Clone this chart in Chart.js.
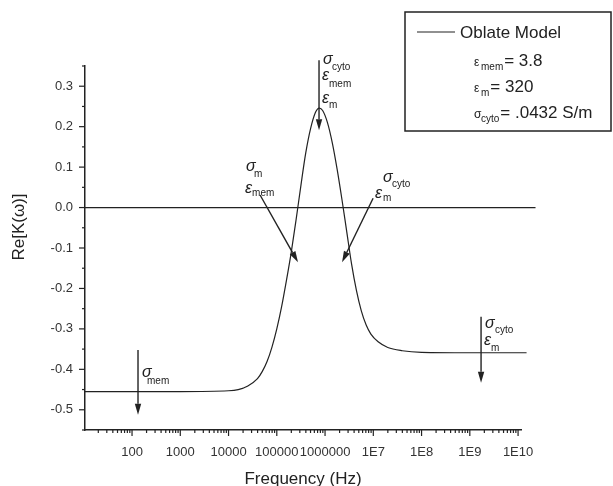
<!DOCTYPE html>
<html>
<head>
<meta charset="utf-8">
<script src="https://cdn.jsdelivr.net/npm/chart.js@4"></script>
<style>
  body { margin: 0; background: #fff; }
</style>
</head>
<body>
<canvas id="c" width="613" height="486"></canvas>
<script>

// frequency (Hz) and Re[K(w)]
const freq = [10.6, 1000, 10000, 15850, 25120, 39810, 50120, 63100, 79430, 100000, 125900, 158500,
  199500, 251200, 316200, 398100, 501200, 631000, 758600, 891300, 1122000, 1413000, 1778000,
  2239000, 2818000, 3548000, 4467000, 5623000, 7079000, 8913000, 12590000, 19950000, 39810000,
  1e8, 1e9, 1.5e10];
const reK = [-0.455, -0.455, -0.453, -0.450, -0.441, -0.423, -0.405, -0.380, -0.345, -0.300, -0.245, -0.180,
  -0.110, -0.030, 0.055, 0.135, 0.195, 0.235, 0.246, 0.240, 0.210, 0.160, 0.095,
  0.020, -0.060, -0.140, -0.205, -0.255, -0.290, -0.313, -0.332, -0.346, -0.354,
  -0.358, -0.359, -0.359];

// the horizontal zero reference line
const zeroFreq = [10.6, 2.3e10];
const zeroVal = [0, 0];

const xTickValues = [100, 1000, 10000, 100000, 1000000, 1e7, 1e8, 1e9, 1e10];
const xTickLabels = ['100', '1000', '10000', '100000', '1000000', '1E7', '1E8', '1E9', '1E10'];
const yTickValues = [-0.5, -0.4, -0.3, -0.2, -0.1, 0.0, 0.1, 0.2, 0.3];

const seriesName = 'Oblate Model';
const legendLines = [
  ['ε', 'mem', '= 3.8'],
  ['ε', 'm', '= 320'],
  ['σ', 'cyto', '= .0432 S/m']
];

// arrows in data space (freq, value); labels: [text, dx, dy, kind] from arrow tail
const arrows = [
  { from: [133, -0.352], to: [133, -0.512],
    text: [['σ', 4, 27, 'g'], ['mem', 9, 34, 's']] },
  { from: [7.5e5, 0.364], to: [7.5e5, 0.191],
    text: [['σ', 4, 4, 'g'], ['cyto', 13, 10, 's'], ['ε', 3, 20, 'g'], ['mem', 10, 27, 's'], ['ε', 3, 43, 'g'], ['m', 10, 48, 's']] },
  { from: [4.5e4, 0.031], to: [2.75e5, -0.135],
    text: [['σ', -14, -24, 'g'], ['m', -6, -18, 's'], ['ε', -15, -2, 'g'], ['mem', -8, 1, 's']] },
  { from: [9.9e6, 0.023], to: [2.25e6, -0.135],
    text: [['σ', 10, -16, 'g'], ['cyto', 19, -11, 's'], ['ε', 2, 0, 'g'], ['m', 10, 3, 's']] },
  { from: [1.71e9, -0.27], to: [1.71e9, -0.433],
    text: [['σ', 4, 11, 'g'], ['cyto', 14, 16, 's'], ['ε', 3, 28, 'g'], ['m', 10, 34, 's']] }
];

const ink = '#222';
const fam = "'Liberation Sans', Arial, sans-serif";

function seg(ctx, x1, y1, x2, y2) {
  ctx.beginPath();
  ctx.moveTo(x1, y1);
  ctx.lineTo(x2, y2);
  ctx.stroke();
}

const decor = {
  id: 'decor',
  afterDraw(chart) {
    const { ctx, chartArea: a, scales: { x, y } } = chart;
    ctx.save();
    ctx.strokeStyle = ink;
    ctx.fillStyle = ink;
    ctx.lineWidth = 1.2;

    // y ticks, major every 0.1 and minor every 0.05
    for (let k = -11; k <= 7; k++) {
      const py = y.getPixelForValue(k * 0.05);
      const len = (k % 2 === 0) ? 6 : 3;
      seg(ctx, a.left - len, py, a.left, py);
    }
    // x ticks, decades and 2..9
    for (let d = 1; d <= 10; d++) {
      for (let m = 1; m < 10; m++) {
        const f = m * Math.pow(10, d);
        if (f < x.min || f > x.max) continue;
        const px = x.getPixelForValue(f);
        seg(ctx, px, a.bottom, px, a.bottom + (m === 1 ? 6 : 3));
      }
    }

    // arrows
    arrows.forEach(ar => {
      const x1 = x.getPixelForValue(ar.from[0]), y1 = y.getPixelForValue(ar.from[1]);
      const x2 = x.getPixelForValue(ar.to[0]), y2 = y.getPixelForValue(ar.to[1]);
      const ang = Math.atan2(y2 - y1, x2 - x1);
      const hl = 11, hw = 3.2;
      const bx = x2 - hl * Math.cos(ang), by = y2 - hl * Math.sin(ang);
      ctx.lineWidth = 1.4;
      seg(ctx, x1, y1, bx, by);
      ctx.beginPath();
      ctx.moveTo(x2, y2);
      ctx.lineTo(bx + hw * Math.sin(ang), by - hw * Math.cos(ang));
      ctx.lineTo(bx - hw * Math.sin(ang), by + hw * Math.cos(ang));
      ctx.closePath();
      ctx.fill();
      ctx.textAlign = 'left';
      ctx.textBaseline = 'alphabetic';
      ar.text.forEach(t => {
        ctx.font = t[3] === 'g' ? 'italic 16px ' + fam : '10px ' + fam;
        ctx.fillText(t[0], x1 + t[1], y1 + t[2]);
      });
    });

    // legend box
    const ds = chart.data.datasets[0];
    ctx.lineWidth = 1.5;
    ctx.strokeRect(405, 12, 206, 119);
    ctx.lineWidth = ds.borderWidth;
    ctx.strokeStyle = ds.borderColor;
    seg(ctx, 417, 32, 455, 32);
    ctx.font = '17px ' + fam;
    ctx.fillText(ds.label, 460, 38);
    const rows = [66, 92, 118];
    legendLines.forEach((ln, i) => {
      const by = rows[i];
      ctx.font = '12px ' + fam;
      ctx.fillText(ln[0], 474, by);
      ctx.font = '10px ' + fam;
      ctx.fillText(ln[1], 481, by + 4);
      const w = ctx.measureText(ln[1]).width;
      ctx.font = '17px ' + fam;
      ctx.fillText(ln[2], 481 + w + 1, by);
    });

    // axis titles
    ctx.font = '17px ' + fam;
    ctx.textAlign = 'center';
    ctx.textBaseline = 'middle';
    ctx.fillText('Frequency (Hz)', (a.left + a.right) / 2, 479);
    ctx.save();
    ctx.translate(19, 227);
    ctx.rotate(-Math.PI / 2);
    ctx.fillText('Re[K(ω)]', 0, 0);
    ctx.restore();

    ctx.restore();
  }
};

new Chart(document.getElementById('c'), {
  type: 'line',
  data: {
    datasets: [{
      label: seriesName,
      data: freq.map((f, i) => ({ x: f, y: reK[i] })),
      borderColor: ink,
      borderWidth: 1.2,
      pointRadius: 0,
      cubicInterpolationMode: 'monotone',
      clip: false
    }, {
      label: 'zero',
      data: zeroFreq.map((f, i) => ({ x: f, y: zeroVal[i] })),
      borderColor: ink,
      borderWidth: 1.2,
      pointRadius: 0,
      clip: false
    }]
  },
  options: {
    responsive: false,
    animation: false,
    layout: { padding: { top: 66, right: 92, left: 0, bottom: 0 } },
    plugins: { legend: { display: false }, tooltip: { enabled: false } },
    scales: {
      x: {
        type: 'logarithmic',
        min: 10.6,
        max: 1.15e10,
        afterBuildTicks: s => { s.ticks = xTickValues.map(v => ({ value: v })); },
        afterFit: s => { s.height = 56; },
        grid: { display: false, drawTicks: false },
        border: { display: true, color: ink, width: 1.5 },
        ticks: {
          autoSkip: false, maxRotation: 0, minRotation: 0, padding: 15,
          color: '#333', font: { family: fam, size: 13 },
          callback: (v, i) => xTickLabels[i]
        }
      },
      y: {
        min: -0.55,
        max: 0.35,
        afterBuildTicks: s => { s.ticks = yTickValues.map(v => ({ value: v })); },
        afterFit: s => { s.width = 85; },
        grid: { display: false, drawTicks: false },
        border: { display: true, color: ink, width: 1.5 },
        ticks: {
          autoSkip: false, padding: 12,
          color: '#333', font: { family: fam, size: 13 },
          callback: v => v.toFixed(1)
        }
      }
    }
  },
  plugins: [decor]
});
</script>
</body>
</html>
